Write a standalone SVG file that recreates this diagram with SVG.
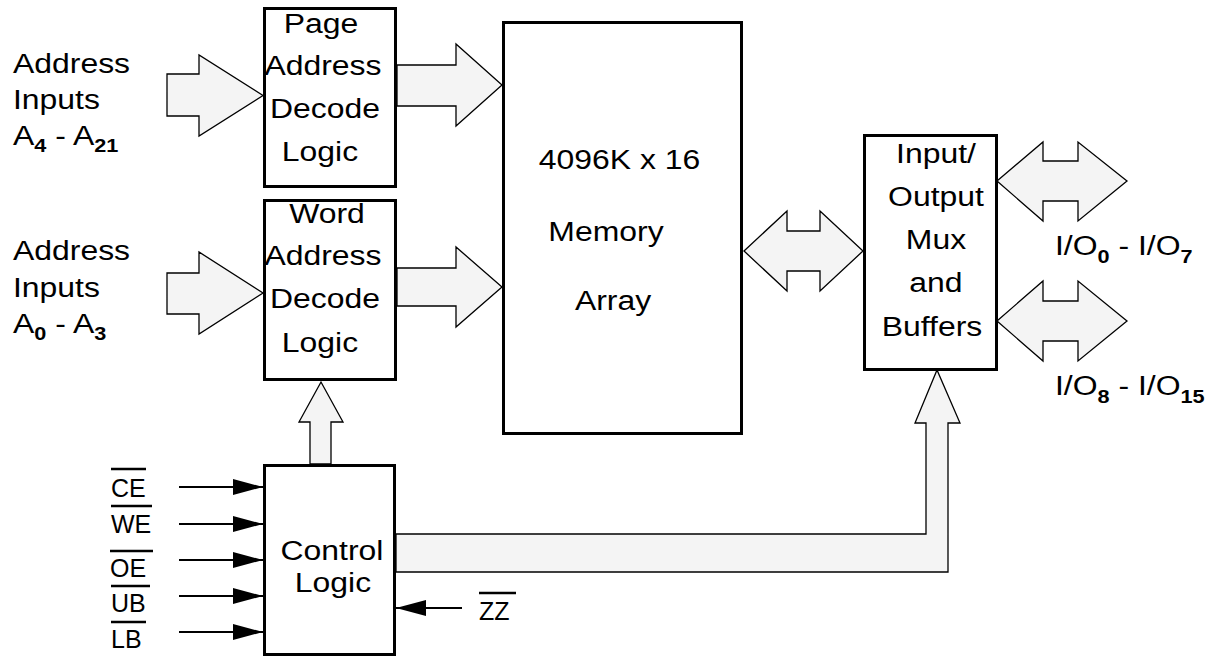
<svg xmlns="http://www.w3.org/2000/svg" width="1219" height="658" viewBox="0 0 1219 658">
<style>
.box{fill:#fff;stroke:#000;stroke-width:3}
.bus{fill:#f4f4f4;stroke:#000;stroke-width:1.3;stroke-linejoin:miter}
.t{font-family:"Liberation Sans",Arial,sans-serif;font-size:28px;fill:#000}
.m{text-anchor:middle}
.sub{font-weight:bold;font-size:19px}
.sig{font-family:"Liberation Sans",Arial,sans-serif;font-size:25px;fill:#000}
.ln{stroke:#000;stroke-width:2;fill:none}
.ov{stroke:#000;stroke-width:2.5}
</style>
<defs>
<marker id="ah" viewBox="0 0 30 16" refX="30" refY="8" markerWidth="30" markerHeight="16" markerUnits="userSpaceOnUse" orient="auto"><path d="M0,0 L30,8 L0,16 z" fill="#000"/></marker>
</defs>

<g id="connectors">
<polygon class="bus" points="167,74 199,74 199,55 263,95.5 199,136 199,116 167,116"/>
<polygon class="bus" points="167,273 199,273 199,252 263,293 199,334 199,314 167,314"/>
<polygon class="bus" points="397,65 456,65 456,44 502,85 456,126 456,106 397,106"/>
<polygon class="bus" points="397,268 456,268 456,247 502,287 456,327 456,306 397,306"/>
<polygon class="bus" points="744,251 787,211 787,231 820,231 820,211 863,251 820,291 820,271 787,271 787,291"/>
<polygon class="bus" points="997,181 1043,142 1043,161 1078,161 1078,142 1127,181 1078,221 1078,201 1043,201 1043,221"/>
<polygon class="bus" points="997,321 1043,281 1043,301 1078,301 1078,281 1127,321 1078,361 1078,341 1043,341 1043,361"/>
<polygon class="bus" points="310,464 310,422 299,422 321,382 343,422 331,422 331,464"/>
<polygon class="bus" points="396,534 926,534 926,423 915,423 937,370 960,423 948,423 948,572 396,572"/>
<line class="ln" x1="179" y1="487" x2="263" y2="487" marker-end="url(#ah)"/>
<line class="ln" x1="179" y1="524" x2="263" y2="524" marker-end="url(#ah)"/>
<line class="ln" x1="179" y1="560" x2="263" y2="560" marker-end="url(#ah)"/>
<line class="ln" x1="179" y1="596" x2="263" y2="596" marker-end="url(#ah)"/>
<line class="ln" x1="179" y1="632" x2="263" y2="632" marker-end="url(#ah)"/>
<line class="ln" x1="462" y1="608" x2="396" y2="608" marker-end="url(#ah)"/>
</g>

<g id="addr-upper">
<text class="t" transform="translate(13 73) scale(1.14 1)">Address</text>
<text class="t" transform="translate(13 109) scale(1.14 1)">Inputs</text>
<text class="t" transform="translate(13 145) scale(1.14 1)">A<tspan class="sub" dy="7">4</tspan><tspan dy="-7"> - A</tspan><tspan class="sub" dy="7">21</tspan></text>
</g>
<g id="addr-lower">
<text class="t" transform="translate(13 260) scale(1.14 1)">Address</text>
<text class="t" transform="translate(13 297) scale(1.14 1)">Inputs</text>
<text class="t" transform="translate(13 333) scale(1.14 1)">A<tspan class="sub" dy="7">0</tspan><tspan dy="-7"> - A</tspan><tspan class="sub" dy="7">3</tspan></text>
</g>

<g id="page-decode">
<rect class="box" x="264.5" y="8.5" width="131" height="178"/>
<text class="t m" transform="translate(321 33) scale(1.14 1)">Page</text>
<text class="t m" transform="translate(323 75) scale(1.14 1)">Address</text>
<text class="t m" transform="translate(325 118) scale(1.14 1)">Decode</text>
<text class="t m" transform="translate(320 161) scale(1.14 1)">Logic</text>
</g>

<g id="word-decode">
<rect class="box" x="264.5" y="200.5" width="131" height="179"/>
<text class="t m" transform="translate(327 223) scale(1.14 1)">Word</text>
<text class="t m" transform="translate(323 265) scale(1.14 1)">Address</text>
<text class="t m" transform="translate(325 308) scale(1.14 1)">Decode</text>
<text class="t m" transform="translate(320 352) scale(1.14 1)">Logic</text>
</g>

<g id="memory">
<rect class="box" x="503.5" y="22.5" width="238" height="411"/>
<text class="t m" transform="translate(619.5 169) scale(1.14 1)">4096K x 16</text>
<text class="t m" transform="translate(606 241) scale(1.14 1)">Memory</text>
<text class="t m" transform="translate(613 310) scale(1.14 1)">Array</text>
</g>

<g id="io-mux">
<rect class="box" x="864.5" y="135.5" width="132" height="234"/>
<text class="t m" transform="translate(936 163) scale(1.14 1)">Input/</text>
<text class="t m" transform="translate(936 206) scale(1.14 1)">Output</text>
<text class="t m" transform="translate(936 249) scale(1.14 1)">Mux</text>
<text class="t m" transform="translate(936 292) scale(1.14 1)">and</text>
<text class="t m" transform="translate(932 336) scale(1.14 1)">Buffers</text>
</g>

<g id="io-labels">
<text class="t" transform="translate(1055 255) scale(1.14 1)">I/O<tspan class="sub" dy="8">0</tspan><tspan dy="-8"> - I/O</tspan><tspan class="sub" dy="8">7</tspan></text>
<text class="t" transform="translate(1055 395) scale(1.14 1)">I/O<tspan class="sub" dy="8">8</tspan><tspan dy="-8"> - I/O</tspan><tspan class="sub" dy="8">15</tspan></text>
</g>

<g id="control">
<rect class="box" x="264.5" y="465.5" width="130" height="189"/>
<text class="t m" transform="translate(332 560) scale(1.14 1)">Control</text>
<text class="t m" transform="translate(333 592) scale(1.14 1)">Logic</text>
</g>

<g id="signals">
<text class="sig" x="111" y="497">CE</text><line class="ov" x1="111" y1="469" x2="146" y2="469"/>
<text class="sig" x="111" y="533">WE</text><line class="ov" x1="111" y1="506" x2="152" y2="506"/>
<text class="sig" x="110" y="577">OE</text><line class="ov" x1="110" y1="551" x2="153" y2="551"/>
<text class="sig" x="111" y="612">UB</text><line class="ov" x1="111" y1="586" x2="150" y2="586"/>
<text class="sig" x="111" y="648">LB</text><line class="ov" x1="111" y1="622" x2="146" y2="622"/>
<text class="sig" x="479" y="620">ZZ</text><line class="ov" x1="479" y1="593" x2="516" y2="593"/>
</g>
</svg>
